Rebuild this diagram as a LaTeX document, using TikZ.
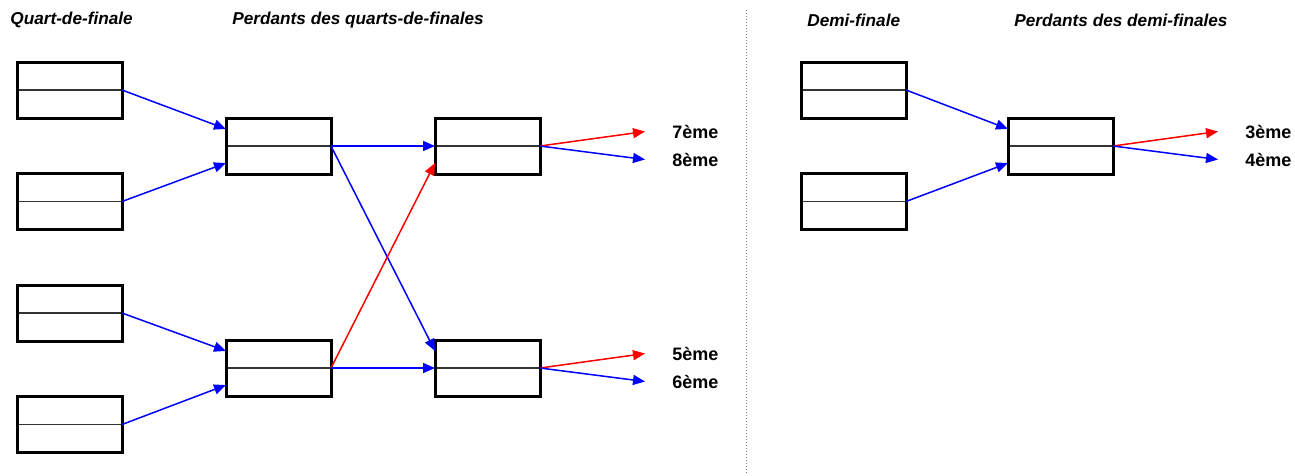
\documentclass[tikz,border=0pt]{standalone}
\usepackage{fontspec}
\setmainfont{Liberation Sans}
\usetikzlibrary{positioning,arrows.meta,calc}

\begin{document}
\begin{tikzpicture}[x=1pt, y=-1pt, thick, node distance=55.5pt]
% Definition of blocks:
\tikzset{%
  block/.style    = {draw, line width=3pt, rectangle, inner sep=0pt, outer sep=0pt, minimum height = 56pt, minimum width = 105pt,
                     path picture={\draw[line width=1.4pt, black!80] (path picture bounding box.west) -- (path picture bounding box.east);}},
  title/.style    = {anchor=west, inner sep=0pt, font=\bfseries\itshape\fontsize{17.2}{20}\selectfont},
  place/.style    = {inner sep=0pt, font=\bfseries\fontsize{18}{21}\selectfont}, % Rank
  win/.style      = {draw=blue, line width=1.5pt, -{Triangle[length=12pt, width=10pt]}, blue},
  lose/.style     = {draw=red, line width=1.5pt, -{Triangle[length=12pt, width=10pt]}, red}
}
\useasboundingbox (0,0) rectangle (1295,475);
\draw
	node [title] (tq) at (10,20) {Quart-de-finale}
	node [title] (tpq) at (232,20) {Perdants des quarts-de-finales}
	node [title] (td) at (807,20) {Demi-finale}
	node [title] (tpd) at (1014,20) {Perdants des demi-finales}
	node [block] (Q1) at (69.5,90) {}
	node [block, below = of Q1] (Q2) {}
	node [block, below = of Q2] (Q3) {}
	node [block, below = of Q3] (Q4) {}
	node [block, right = 104pt of Q1, yshift=-56pt] (L1) {}
	node [block, below = 166pt of L1] (L2) {}
	node [block, right = 104pt of L1] (R1) {}
	node [block, right = 104pt of L2] (R2) {}
	node [place, right = 132pt of R1.east, yshift=14.5pt] (p7) {7ème}
	node [place, right = 132pt of R1.east, yshift=-13.5pt] (p8) {8ème}
	node [place, right = 132pt of R2.east, yshift=14.5pt] (p5) {5ème}
	node [place, right = 132pt of R2.east, yshift=-13.5pt] (p6) {6ème}
	node [block] (D1) at (853.5,90) {}
	node [block, below = of D1] (D2) {}
	node [block, right = 102pt of D1, yshift=-56pt] (P) {}
	node [place, right = 132pt of P.east, yshift=14.5pt] (p3) {3ème}
	node [place, right = 132pt of P.east, yshift=-13.5pt] (p4) {4ème};
\coordinate (sepT) at (746,10);
\coordinate (sepB) at (746,475);
\draw[gray, dotted, line width=1pt] (sepT) -- (sepB);

	\draw[win](Q1.east) -- (L1.162);
	\draw[win](Q2.east) -- (L1.198);
	\draw[win](Q3.east) -- (L2.162);
	\draw[win](Q4.east) -- (L2.198);
	\draw[win](L1.east) -- (R1.west);
	\draw[win](L1.east) -- (R2.162);
	\draw[lose](L2.east) -- (R1.198);
	\draw[win](L2.east) -- (R2.west);
	\draw[lose](R1.east) -- ([xshift=-27pt]p7.west);
	\draw[win](R1.east) -- ([xshift=-27pt]p8.west);
	\draw[lose](R2.east) -- ([xshift=-27pt]p5.west);
	\draw[win](R2.east) -- ([xshift=-27pt]p6.west);
	\draw[win](D1.east) -- (P.162);
	\draw[win](D2.east) -- (P.198);
	\draw[lose](P.east) -- ([xshift=-27pt]p3.west);
	\draw[win](P.east) -- ([xshift=-27pt]p4.west);
	%
\end{tikzpicture}
\end{document}
